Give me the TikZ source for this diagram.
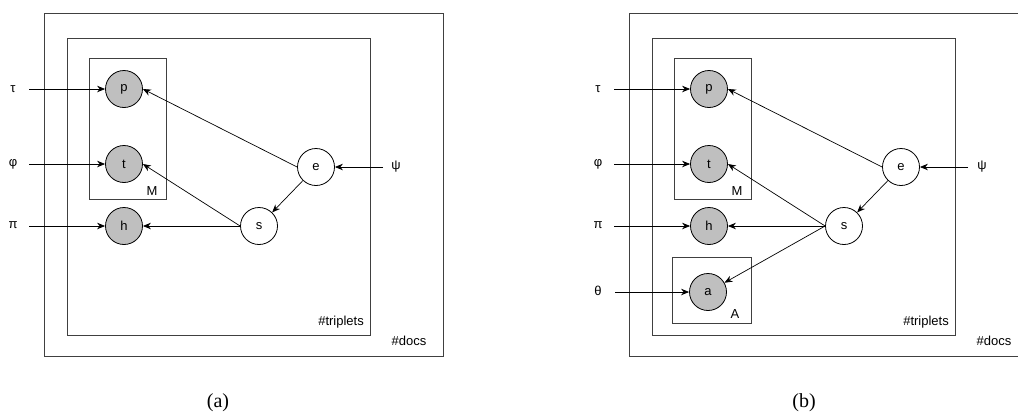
\documentclass[tikz,border=0pt]{standalone}
\usepackage{fontspec}
\setmainfont{Liberation Sans}
\newfontfamily\capfont{Liberation Serif}
\usetikzlibrary{arrows.meta}
\begin{document}
\begin{tikzpicture}[x=1pt,y=-1pt,
  var/.style={circle, draw=black, line width=0.8pt, minimum size=37pt, inner sep=0pt, font=\fontsize{13}{15}\selectfont},
  obs/.style={var, fill=gray!50},
  latent/.style={var, fill=white},
  plate/.style={draw=black!75, line width=1pt},
  lbl/.style={font=\fontsize{13}{15}\selectfont, inner sep=0pt},
  captxt/.style={font=\capfont\fontsize{20}{22}\selectfont, inner sep=0pt},
  edge/.style={-{Stealth[length=8pt,width=6.5pt]}, line width=0.7pt},
]
\useasboundingbox (0,0) rectangle (1018,416);
\clip (0,0) rectangle (1018,416);

% ---------------- panel (a) ----------------
\draw[plate] (44,13) rectangle (443,356);
\draw[plate] (67,38) rectangle (370,335);
\draw[plate] (89,58) rectangle (166,199);
\node[lbl] (Ma) at (152,191) {M};
\node[lbl, anchor=east] (tripa) at (364,322) {\#triplets};
\node[lbl] (docsa) at (409,341) {\#docs};

\node[obs] (pa) at (124,89) {p};
\node[obs] (ta) at (124,164) {t};
\node[obs] (ha) at (124,226) {h};
\node[latent] (ea) at (316,167) {e};
\node[latent] (sa) at (259,226) {s};

\node[lbl] (taua) at (13,89) {τ};
\node[lbl] (phia) at (13,164) {φ};
\node[lbl] (pia) at (13,225) {π};
\node[lbl] (psia) at (396,167) {ψ};
\coordinate (taua0) at (29,89);
\coordinate (phia0) at (29,164);
\coordinate (pia0) at (29,226);
\coordinate (psia0) at (383,167);

\draw[edge] (taua0) -- (pa);
\draw[edge] (phia0) -- (ta);
\draw[edge] (pia0) -- (ha);
\draw[edge] (psia0) -- (ea);
\draw[edge] (ea.west) -- (pa.east);
\draw[edge] (ea) -- (sa);
\draw[edge] (sa.west) -- (ta.east);
\draw[edge] (sa.west) -- (ha.east);

\node[captxt] (capa) at (218,403) {(a)};

% ---------------- panel (b) ----------------
\draw[plate] (629,13) rectangle (1028,356);
\draw[plate] (652,38) rectangle (955,335);
\draw[plate] (674,58) rectangle (751,199);
\draw[plate] (672,257) rectangle (751,323);
\node[lbl] (Mb) at (737,191) {M};
\node[lbl] (Ab) at (735,314) {A};
\node[lbl, anchor=east] (tripb) at (949,322) {\#triplets};
\node[lbl] (docsb) at (994,341) {\#docs};

\node[obs] (pb) at (709,89) {p};
\node[obs] (tb) at (709,164) {t};
\node[obs] (hb) at (709,226) {h};
\node[obs] (ab) at (708,292) {a};
\node[latent] (eb) at (901,167) {e};
\node[latent] (sb) at (844,226) {s};

\node[lbl] (taub) at (598,89) {τ};
\node[lbl] (phib) at (598,164) {φ};
\node[lbl] (pib) at (598,225) {π};
\node[lbl] (thetab) at (598,291) {θ};
\node[lbl] (psib) at (982,167) {ψ};
\coordinate (taub0) at (614,89);
\coordinate (phib0) at (614,164);
\coordinate (pib0) at (614,226);
\coordinate (thetab0) at (615,292);
\coordinate (psib0) at (968,167);

\draw[edge] (taub0) -- (pb);
\draw[edge] (phib0) -- (tb);
\draw[edge] (pib0) -- (hb);
\draw[edge] (thetab0) -- (ab);
\draw[edge] (psib0) -- (eb);
\draw[edge] (eb.west) -- (pb.east);
\draw[edge] (eb) -- (sb);
\draw[edge] (sb.west) -- (tb.east);
\draw[edge] (sb.west) -- (hb.east);
\draw[edge] (sb.west) -- (ab);

\node[captxt] (capb) at (804,403) {(b)};
\end{tikzpicture}
\end{document}
